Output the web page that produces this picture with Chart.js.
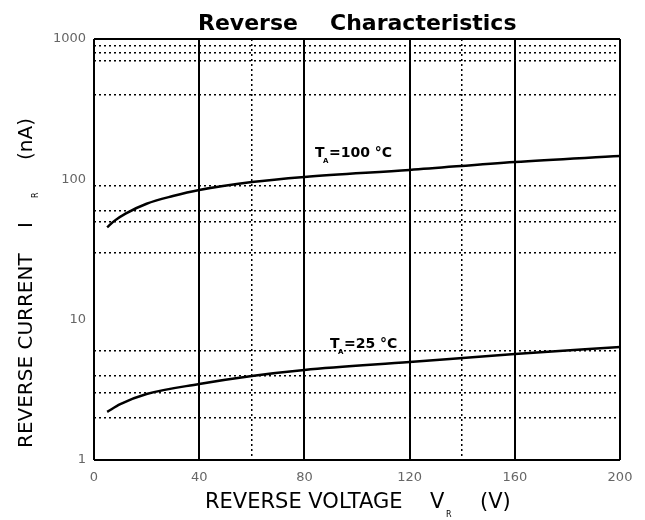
<!DOCTYPE html>
<html>
<head>
<meta charset="utf-8">
<script src="https://cdn.jsdelivr.net/npm/chart.js@4.4.0/dist/chart.umd.min.js"></script>
<style>
  html, body { margin: 0; padding: 0; background: #fff; }
  #wrap { width: 645px; height: 520px; }
</style>
</head>
<body>
<div id="wrap"><canvas id="c" width="645" height="520"></canvas></div>
<script>
// ---- data ----
const voltage100 = [5, 8, 12, 20, 30, 40, 60, 80, 120, 160, 200];
const current100 = [45.5, 51, 57, 67, 76, 84, 95.7, 104, 116.6, 133, 146.6];
const voltage25 = [5, 10, 20, 40, 60, 80, 120, 160, 200];
const current25 = [2.2, 2.5, 2.95, 3.48, 3.97, 4.38, 4.99, 5.69, 6.38];

const xTickValues = [0, 40, 80, 120, 160, 200];
const xDottedValues = [60, 140];
const yTickValues = [1, 10, 100, 1000];
const yDottedValues = [2, 3, 4, 6, 30, 50, 60, 90, 400, 700, 800, 900];

const titleWords = ['Reverse', 'Characteristics'];
const xTitle = ['REVERSE VOLTAGE', 'V', 'R', '(V)'];
const yTitle = ['REVERSE CURRENT', 'I', 'R', '(nA)'];
const curveLabels = [
  { v: 84, i: 144, main: 'T', sub: 'A', rest: '=100 °C' },
  { v: 89.7, i: 6.28, main: 'T', sub: 'A', rest: '=25 °C' }
];

const toXY = (xs, ys) => xs.map((x, k) => ({ x: x, y: ys[k] }));

const FONT = '"DejaVu Sans", "Liberation Sans", Arial, sans-serif';

const textPlugin = {
  id: 'texts',
  afterDraw(chart) {
    const { ctx, chartArea: a, scales } = chart;
    ctx.save();
    ctx.fillStyle = '#000';
    ctx.textAlign = 'left';
    ctx.textBaseline = 'alphabetic';

    // title
    ctx.font = 'bold 22px ' + FONT;
    ctx.fillText(titleWords[0], a.left + 104, a.top - 9);
    ctx.fillText(titleWords[1], a.left + 236, a.top - 9);

    // x axis title
    const xb = a.bottom + 48;
    ctx.font = '21px ' + FONT;
    ctx.fillText(xTitle[0], 205, xb);
    ctx.fillText(xTitle[1], 430, xb);
    ctx.font = '8px ' + FONT;
    ctx.fillText(xTitle[2], 446, xb + 9);
    ctx.font = '21px ' + FONT;
    ctx.fillText(xTitle[3], 480, xb);

    // y axis title (rotated)
    ctx.save();
    ctx.translate(32, a.bottom - 12);
    ctx.rotate(-Math.PI / 2);
    ctx.font = '20px ' + FONT;
    ctx.fillText(yTitle[0], 0, 0);
    ctx.fillText(yTitle[1], 220, 0);
    ctx.font = '8px ' + FONT;
    ctx.fillText(yTitle[2], 250, 6);
    ctx.font = '20px ' + FONT;
    ctx.fillText(yTitle[3], 288, 0);
    ctx.restore();

    // curve labels
    curveLabels.forEach(l => {
      const px = scales.x.getPixelForValue(l.v);
      const py = scales.y.getPixelForValue(l.i);
      ctx.font = 'bold 14px ' + FONT;
      ctx.fillText(l.main, px, py);
      ctx.font = 'bold 7px ' + FONT;
      ctx.fillText(l.sub, px + 8, py + 6);
      ctx.font = 'bold 14px ' + FONT;
      ctx.fillText(l.rest, px + 14, py);
    });
    ctx.restore();
  }
};

new Chart(document.getElementById('c'), {
  type: 'line',
  data: {
    datasets: [
      {
        data: toXY(voltage100, current100),
        borderColor: '#000', borderWidth: 2.5, pointRadius: 0,
        cubicInterpolationMode: 'monotone', fill: false
      },
      {
        data: toXY(voltage25, current25),
        borderColor: '#000', borderWidth: 2.5, pointRadius: 0,
        cubicInterpolationMode: 'monotone', fill: false
      }
    ]
  },
  options: {
    responsive: false,
    animation: false,
    devicePixelRatio: 1,
    layout: { padding: { top: 39, right: 25, left: 0, bottom: 0 } },
    plugins: { legend: { display: false }, tooltip: { enabled: false }, title: { display: false } },
    scales: {
      x: {
        type: 'linear', min: 0, max: 200, position: 'bottom',
        afterBuildTicks: s => { s.ticks = xTickValues.map(v => ({ value: v })); },
        afterFit: s => { s.height = 60; },
        ticks: { color: '#666', font: { family: FONT, size: 13 }, padding: 10, maxRotation: 0, callback: v => String(v) },
        grid: { color: '#000', lineWidth: 2, drawTicks: false },
        border: { display: false }
      },
      x2: {
        type: 'linear', min: 0, max: 200, position: 'top',
        afterBuildTicks: s => { s.ticks = xDottedValues.map(v => ({ value: v })); },
        afterFit: s => { s.height = 0; },
        ticks: { display: false },
        grid: { color: '#000', lineWidth: 1.5, drawTicks: false },
        border: { display: false, dash: [2, 3] }
      },
      y: {
        type: 'logarithmic', min: 1, max: 1000, position: 'left',
        afterBuildTicks: s => { s.ticks = yTickValues.map(v => ({ value: v })); },
        afterFit: s => { s.width = 94; },
        ticks: { color: '#666', font: { family: FONT, size: 13 }, padding: 8, callback: v => String(v) },
        grid: {
          color: c => (c.tick && (c.tick.value === 1 || c.tick.value === 1000)) ? '#000' : 'rgba(0,0,0,0)',
          lineWidth: 2, drawTicks: false
        },
        border: { display: false }
      },
      y2: {
        type: 'logarithmic', min: 1, max: 1000, position: 'right',
        afterBuildTicks: s => { s.ticks = yDottedValues.map(v => ({ value: v })); },
        afterFit: s => { s.width = 0; },
        ticks: { display: false },
        grid: { color: '#000', lineWidth: 1.5, drawTicks: false },
        border: { display: false, dash: [2, 3] }
      }
    }
  },
  plugins: [textPlugin]
});
</script>
</body>
</html>
